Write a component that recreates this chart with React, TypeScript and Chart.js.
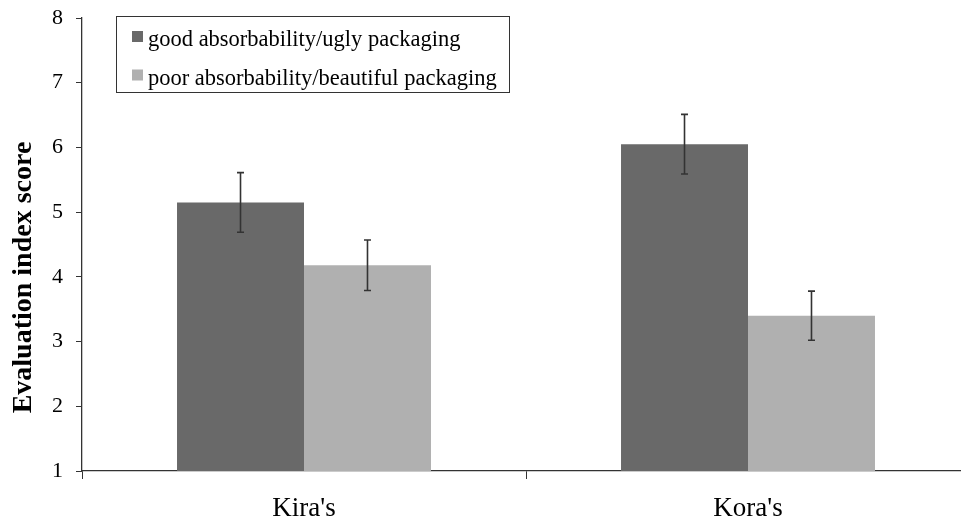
import React, { useEffect, useRef } from "react";
import { Chart, registerables } from "chart.js";

Chart.register(...registerables);

const categories = ["Kira's", "Kora's"];
const seriesLabels = ["good absorbability/ugly packaging", "poor absorbability/beautiful packaging"];
const goodUgly = [5.15, 6.05];
const poorBeautiful = [4.18, 3.4];
const goodUglyErr = [0.46, 0.46];
const poorBeautifulErr = [0.39, 0.38];
const yTicks = [1, 2, 3, 4, 5, 6, 7, 8];
const yTitle = "Evaluation index score";

const errs = [goodUglyErr, poorBeautifulErr];
const colors = ["#696969", "#b0b0b0"];
const SERIF = "'Liberation Serif', 'Times New Roman', serif";

const errorBarPlugin = {
  id: "errorBars",
  afterDatasetsDraw(chart: any) {
    const ctx = chart.ctx;
    const y = chart.scales.y;
    ctx.save();
    ctx.strokeStyle = "#333333";
    ctx.lineWidth = 1.6;
    chart.data.datasets.forEach((ds: any, di: number) => {
      const meta = chart.getDatasetMeta(di);
      meta.data.forEach((bar: any, i: number) => {
        const v = ds.data[i];
        const e = errs[di][i];
        const x = bar.x;
        const yt = y.getPixelForValue(v + e);
        const yb = y.getPixelForValue(v - e);
        ctx.beginPath();
        ctx.moveTo(x, yt);
        ctx.lineTo(x, yb);
        ctx.moveTo(x - 3.5, yt);
        ctx.lineTo(x + 3.5, yt);
        ctx.moveTo(x - 3.5, yb);
        ctx.lineTo(x + 3.5, yb);
        ctx.stroke();
      });
    });
    ctx.restore();
  },
};

const legendPlugin = {
  id: "boxLegend",
  afterDraw(chart: any) {
    const ctx = chart.ctx;
    ctx.save();
    const bx = 116.5, by = 16.5, bw = 393, bh = 76;
    ctx.fillStyle = "#ffffff";
    ctx.fillRect(bx, by, bw, bh);
    ctx.strokeStyle = "#333333";
    ctx.lineWidth = 1;
    ctx.strokeRect(bx, by, bw, bh);
    ctx.font = "22.5px " + SERIF;
    ctx.textBaseline = "alphabetic";
    chart.data.datasets.forEach((ds: any, i: number) => {
      const base = 46 + i * 38.5;
      ctx.fillStyle = ds.backgroundColor;
      ctx.fillRect(132, base - 15, 11, 11);
      ctx.fillStyle = "#000000";
      ctx.fillText(ds.label, 148, base);
    });
    ctx.restore();
  },
};

const titlePlugin = {
  id: "yTitle",
  afterDraw(chart: any) {
    const ctx = chart.ctx;
    ctx.save();
    ctx.translate(24, 277.5);
    ctx.rotate(-Math.PI / 2);
    ctx.font = "bold 28px " + SERIF;
    ctx.fillStyle = "#000000";
    ctx.textAlign = "center";
    ctx.textBaseline = "middle";
    ctx.fillText(yTitle, 0, 0);
    ctx.restore();
  },
};

export default function App() {
  const ref = useRef<HTMLCanvasElement>(null);
  useEffect(() => {
    if (!ref.current) return;
    const chart = new Chart(ref.current, {
      type: "bar",
      data: {
        labels: categories,
        datasets: [
          { label: seriesLabels[0], data: goodUgly, backgroundColor: colors[0] },
          { label: seriesLabels[1], data: poorBeautiful, backgroundColor: colors[1] },
        ],
      },
      options: {
        responsive: false,
        animation: false,
        layout: { padding: { top: 18, left: 0, right: 0, bottom: 0 } },
        datasets: { bar: { categoryPercentage: 0.572, barPercentage: 1.0 } },
        plugins: { legend: { display: false }, tooltip: { enabled: false } },
        scales: {
          x: {
            offset: true,
            grid: { display: true, offset: true, drawOnChartArea: false, drawTicks: true, tickLength: 8, color: "#333333" },
            border: { display: true, color: "#333333", width: 1.3 },
            ticks: { color: "#000000", font: { family: SERIF, size: 27 }, padding: 14 },
            afterFit(scale: any) {
              scale.height = 47;
              scale.paddingLeft = 0;
              scale.paddingRight = 0;
            },
          },
          y: {
            min: 1,
            max: 8,
            afterBuildTicks(scale: any) { scale.ticks = yTicks.map((v) => ({ value: v })); },
            grid: { display: true, drawOnChartArea: false, drawTicks: true, tickLength: 6, color: "#333333" },
            border: { display: true, color: "#333333", width: 1.3 },
            ticks: { color: "#000000", font: { family: SERIF, size: 22 }, padding: 13 },
            afterFit(scale: any) {
              scale.width = 82;
              scale.paddingTop = 0;
              scale.paddingBottom = 0;
            },
          },
        },
      },
      plugins: [errorBarPlugin, legendPlugin, titlePlugin],
    } as any);
    return () => chart.destroy();
  }, []);
  return (
    <div style={{ position: "fixed", left: 0, top: 0, width: 970, height: 518, background: "#fff" }}>
      <canvas ref={ref} width={970} height={518} style={{ width: 970, height: 518 }} />
    </div>
  );
}
